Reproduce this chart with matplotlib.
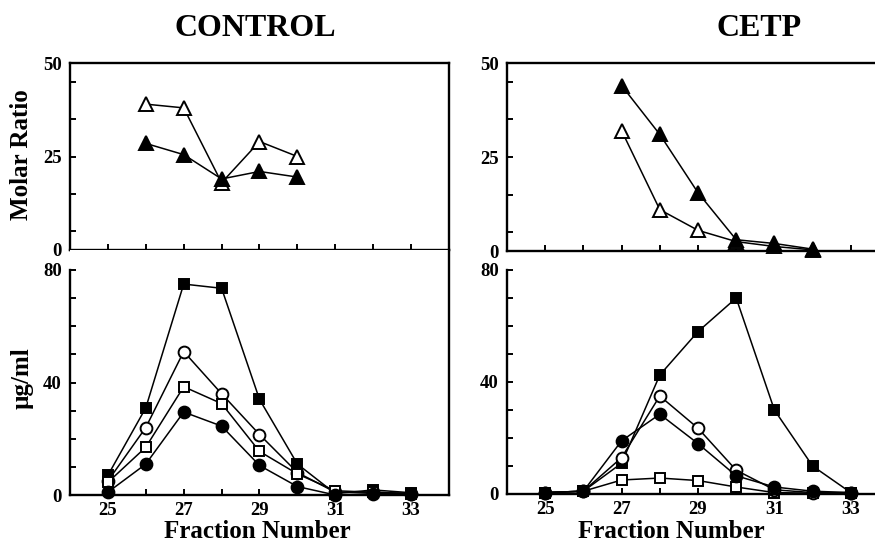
import matplotlib
matplotlib.use('Agg')
import matplotlib.pyplot as plt

# fractions
frac_ratio_ctrl = [26, 27, 28, 29, 30]
frac_ratio_cetp = [27, 28, 29, 30, 31, 32]
frac_all = [25, 26, 27, 28, 29, 30, 31, 32, 33]

# molar ratio (top panels)
ctrl_open_tri = [39, 38, 18, 29, 25]
ctrl_fill_tri = [28.5, 25.5, 19, 21, 19.5]
cetp_open_tri = [32, 11, 5.5, 2.5, 1.2, 0.3]
cetp_fill_tri = [44, 31, 15.5, 3, 2, 0.5]

# ug/ml (bottom panels)
ctrl_fill_sq = [7, 31, 75, 73.5, 34, 11, 0.5, 1.8, 0.8]
ctrl_open_circ = [5, 24, 51, 36, 21.5, 8, 1, 1, 0.5]
ctrl_open_sq = [4.5, 17, 38.5, 32.5, 15.5, 7.5, 1.5, 1, 0.5]
ctrl_fill_circ = [1, 11, 29.5, 24.5, 10.5, 3, 0, 0.5, 0.5]

cetp_fill_sq = [0.5, 1, 11, 42.5, 58, 70, 30, 10, 0.5]
cetp_open_circ = [0.5, 1, 13, 35, 23.5, 8.5, 1.5, 0.5, 0.5]
cetp_fill_circ = [0.5, 1, 19, 28.5, 18, 6.5, 2.5, 1, 0.5]
cetp_open_sq = [0.5, 1, 5, 5.7, 4.8, 2.5, 0.5, 0.3, 0.3]

plt.rcParams['font.family'] = ['Liberation Serif', 'DejaVu Serif']
plt.rcParams['font.weight'] = 'bold'

W, H = 875.0, 545.0
fig = plt.figure(figsize=(8.75, 5.45), dpi=100)


def px_axes(left, top, right, bottom):
    return fig.add_axes([left / W, 1 - bottom / H, (right - left) / W, (bottom - top) / H])


def style(ax):
    for s in ax.spines.values():
        s.set_linewidth(1.7)
    ax.tick_params(direction='in', length=4.5, width=1.4, labelsize=13.5)
    ax.tick_params(axis='y', pad=6)
    ax.tick_params(axis='x', pad=5)
    for lab in ax.get_xticklabels() + ax.get_yticklabels():
        lab.set_fontweight('bold')


def series(ax, x, y, marker, filled, ms):
    ax.plot(x, y, color='black', linewidth=1.1, marker=marker, markersize=ms,
            markerfacecolor='black' if filled else 'white',
            markeredgecolor='black', markeredgewidth=1.4, clip_on=False)


ratio_ticks = [0, 5, 15, 25, 35, 45, 50]
ratio_labels = ['0', '', '', '25', '', '', '50']
conc_ticks = [0, 10, 20, 30, 40, 50, 60, 70, 80]
conc_labels = ['0', '', '', '', '40', '', '', '', '80']
x_labels = [str(f) if f % 2 == 1 else '' for f in frac_all]

# top-left: control molar ratio
ax1 = px_axes(70, 63, 449, 250)
series(ax1, frac_ratio_ctrl, ctrl_open_tri, '^', False, 10)
series(ax1, frac_ratio_ctrl, ctrl_fill_tri, '^', True, 10)
ax1.set_xlim(24, 34)
ax1.set_ylim(0, 50)
ax1.set_xticks(frac_all)
ax1.set_xticklabels([])
ax1.set_yticks(ratio_ticks)
ax1.set_yticklabels(ratio_labels)
style(ax1)

# top-right: CETP molar ratio
ax2 = px_axes(507, 63, 889, 251)
series(ax2, frac_ratio_cetp, cetp_open_tri, '^', False, 10)
series(ax2, frac_ratio_cetp, cetp_fill_tri, '^', True, 10)
ax2.set_xlim(24, 34)
ax2.set_ylim(0, 50)
ax2.set_xticks(frac_all)
ax2.set_xticklabels([])
ax2.set_yticks(ratio_ticks)
ax2.set_yticklabels(ratio_labels)
style(ax2)

# bottom-left: control ug/ml (right spine joins the top panel)
ax3 = px_axes(70, 250, 449, 495)
series(ax3, frac_all, ctrl_fill_sq, 's', True, 7.5)
series(ax3, frac_all, ctrl_open_circ, 'o', False, 8.5)
series(ax3, frac_all, ctrl_open_sq, 's', False, 7.5)
series(ax3, frac_all, ctrl_fill_circ, 'o', True, 8.5)
ax3.set_xlim(24, 34)
ax3.set_ylim(0, 80 * 245 / 225.0)
ax3.spines['top'].set_visible(False)
ax3.spines['left'].set_bounds(0, 80)
ax3.set_xticks(frac_all)
ax3.set_xticklabels(x_labels)
ax3.set_yticks(conc_ticks)
ax3.set_yticklabels(conc_labels)
style(ax3)

# bottom-right: CETP ug/ml
ax4 = px_axes(507, 270, 889, 494)
series(ax4, frac_all, cetp_open_sq, 's', False, 7.5)
series(ax4, frac_all, cetp_fill_sq, 's', True, 7.5)
series(ax4, frac_all, cetp_open_circ, 'o', False, 8.5)
series(ax4, frac_all, cetp_fill_circ, 'o', True, 8.5)
ax4.set_xlim(24, 34)
ax4.set_ylim(0, 80)
ax4.spines['top'].set_visible(False)
ax4.spines['right'].set_visible(False)
ax4.set_xticks(frac_all)
ax4.set_xticklabels(x_labels)
ax4.set_yticks(conc_ticks)
ax4.set_yticklabels(conc_labels)
style(ax4)

fig.text(255 / W, 1 - 28 / H, 'CONTROL', ha='center', va='center', fontsize=23, fontweight='bold')
fig.text(759 / W, 1 - 28 / H, 'CETP', ha='center', va='center', fontsize=23, fontweight='bold')
fig.text(22 / W, 1 - 155 / H, 'Molar Ratio', rotation=90, ha='center', va='center', fontsize=18, fontweight='bold')
fig.text(22 / W, 1 - 378 / H, 'µg/ml', rotation=90, ha='center', va='center', fontsize=18, fontweight='bold')
fig.text(257 / W, 1 - 532 / H, 'Fraction Number', ha='center', va='center', fontsize=18, fontweight='bold')
fig.text(671 / W, 1 - 532 / H, 'Fraction Number', ha='center', va='center', fontsize=18, fontweight='bold')

fig.savefig('out.png', dpi=100)
